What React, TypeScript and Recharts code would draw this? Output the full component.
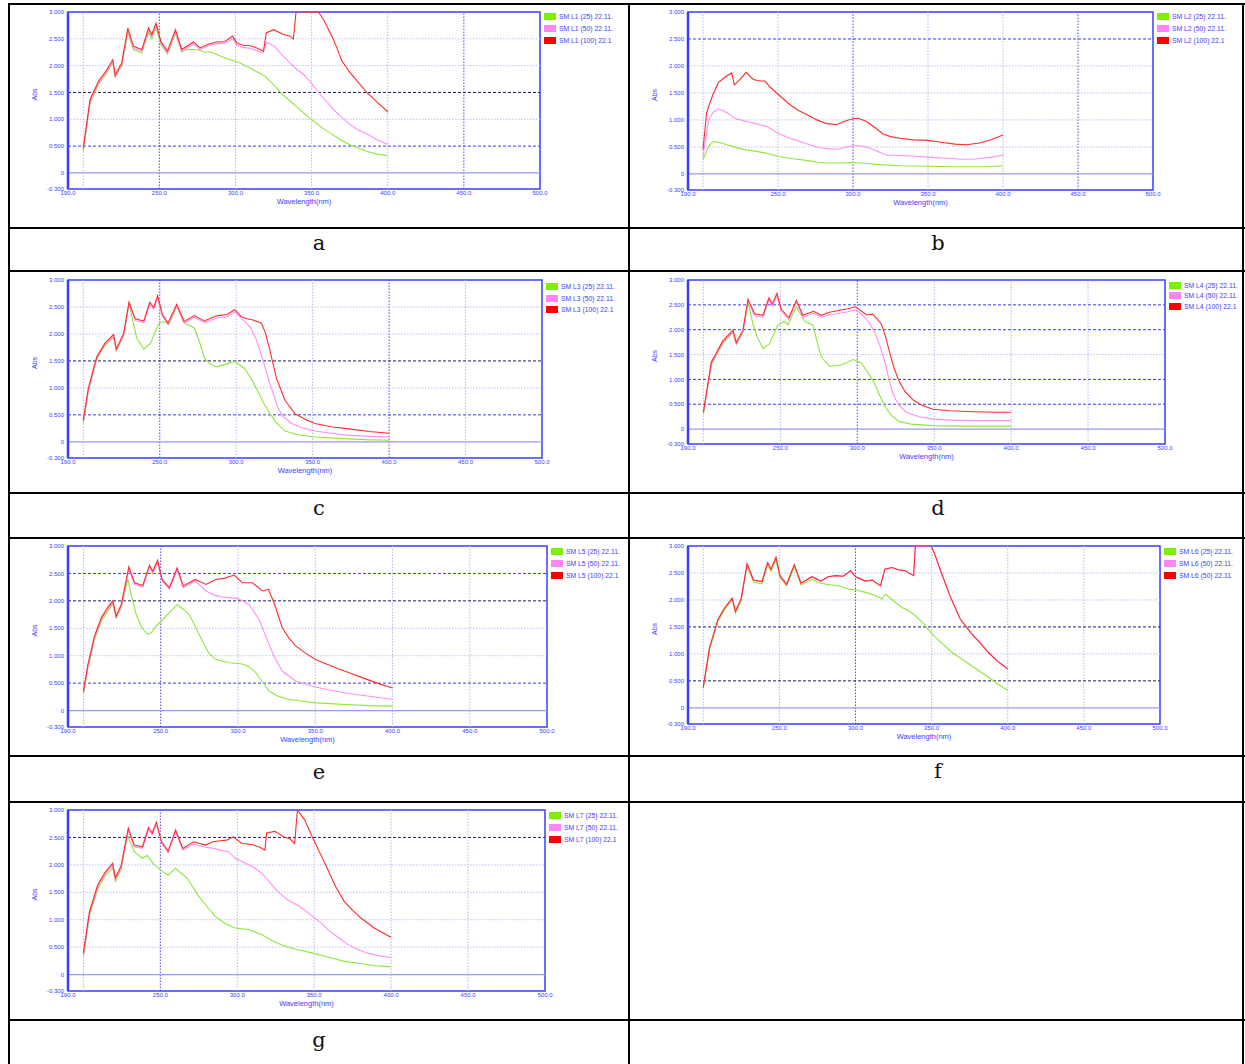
import { LineChart, Line, XAxis, YAxis, ReferenceLine, ReferenceArea } from "recharts";

// wavelength (nm) / absorbance pairs
const aRed = [[200,0.46],[204.5,1.37],[210,1.71],[215,1.9],[219.4,2.11],[221,1.83],[225.3,2.05],[229.3,2.7],[233,2.36],[238.5,2.3],[242.9,2.7],[245,2.58],[247.9,2.79],[251,2.45],[255.3,2.27],[260.6,2.67],[264.7,2.3],[272.4,2.44],[276.8,2.33],[282,2.4],[287.7,2.44],[293,2.45],[298.2,2.55],[300.9,2.42],[305,2.38],[309.7,2.37],[314,2.33],[318.4,2.27],[320.2,2.61],[325,2.67],[331.6,2.58],[336,2.55],[338,2.5],[339.8,3.0],[354.5,3.0],[358,2.85],[364.5,2.48],[370,2.08],[375,1.88],[380,1.71],[386.6,1.49],[393,1.32],[400,1.14]];
const aPink = [[200,0.43],[204.5,1.33],[210,1.68],[215,1.87],[219.4,2.08],[221,1.8],[225.3,2.02],[229.3,2.66],[233,2.33],[238.5,2.27],[242.9,2.66],[245,2.55],[247.9,2.75],[251,2.42],[255.3,2.24],[260.6,2.63],[264.7,2.27],[272.4,2.4],[276.8,2.3],[282,2.37],[287.7,2.41],[293,2.42],[298.2,2.5],[300.9,2.38],[305,2.34],[309.7,2.32],[314,2.28],[318,2.24],[320.5,2.44],[326,2.35],[331.6,2.17],[339,1.96],[345,1.83],[350,1.67],[357,1.42],[364.5,1.18],[370,1.03],[375.4,0.9],[380,0.81],[386.6,0.72],[393,0.62],[400,0.53]];
const aGreen = [[200,0.4],[204.5,1.3],[210,1.65],[215,1.84],[219.4,2.05],[221,1.78],[225.3,1.99],[229.3,2.62],[233,2.3],[238.5,2.24],[242.9,2.62],[245,2.5],[247.9,2.7],[251,2.39],[255.3,2.22],[260.6,2.6],[264.7,2.26],[268,2.3],[274.6,2.3],[280,2.25],[283.4,2.26],[290,2.18],[296.5,2.11],[303,2.05],[309.7,1.95],[315,1.87],[319.5,1.8],[323,1.7],[327.2,1.58],[331,1.46],[335.9,1.34],[343,1.16],[350.2,0.99],[357,0.84],[364.5,0.7],[370,0.6],[375.4,0.52],[380,0.47],[386.6,0.4],[393,0.35],[400,0.32]];

const bRed = [[200,0.45],[202.4,1.13],[205.8,1.41],[210.2,1.69],[215,1.8],[219.1,1.87],[220.9,1.65],[224.7,1.75],[228.7,1.88],[233.6,1.75],[238,1.72],[241.3,1.72],[245,1.6],[250.2,1.47],[258,1.28],[264,1.17],[269,1.1],[276,1.0],[282.4,0.93],[289,0.91],[295.8,0.99],[300,1.02],[303.6,1.03],[309,0.97],[315,0.85],[320,0.74],[325,0.69],[331,0.66],[340,0.63],[350,0.62],[360,0.58],[368,0.55],[375.6,0.54],[384.4,0.57],[392,0.63],[400,0.72]];
const bPink = [[200,0.32],[203.7,1.0],[207,1.15],[210.2,1.2],[213,1.18],[216.9,1.12],[220.9,1.03],[225,1.0],[229,0.97],[235,0.93],[242.4,0.88],[250.2,0.75],[257,0.67],[264.7,0.6],[272,0.53],[279,0.48],[285,0.46],[291.3,0.46],[296,0.5],[300.2,0.52],[304,0.52],[309,0.5],[316,0.42],[322.4,0.35],[331.3,0.34],[340,0.33],[350,0.31],[362,0.29],[373.3,0.27],[380,0.27],[386.7,0.29],[393,0.31],[400,0.35]];
const bGreen = [[200,0.26],[203.7,0.51],[207,0.6],[211,0.58],[215.8,0.54],[222,0.49],[229,0.44],[235,0.42],[242.4,0.38],[250.2,0.32],[260,0.28],[269,0.25],[276,0.22],[282.4,0.2],[290,0.2],[300.2,0.21],[310,0.19],[318,0.17],[331,0.15],[350,0.14],[365,0.13],[377.8,0.13],[390,0.13],[400,0.15]];

const cRed = [[200,0.4],[203.3,0.99],[208.8,1.58],[214,1.82],[219.8,1.99],[221.6,1.72],[226.4,2.01],[229.9,2.59],[234,2.28],[239.6,2.24],[243.5,2.59],[246.1,2.49],[248.6,2.71],[251.7,2.36],[255.4,2.2],[261.1,2.55],[266,2.23],[272.6,2.34],[279.2,2.24],[284,2.3],[288,2.34],[294,2.36],[299,2.45],[303.4,2.32],[307,2.28],[311,2.26],[316.5,2.2],[319,2.03],[322,1.7],[326.4,1.17],[331.9,0.77],[338.5,0.52],[345,0.42],[351.6,0.34],[362,0.28],[373.5,0.24],[387,0.19],[400,0.16]];
const cPink = [[200,0.37],[203.3,0.96],[208.8,1.55],[214,1.8],[219.8,1.96],[221.6,1.7],[226.4,1.98],[229.9,2.56],[234,2.25],[239.6,2.21],[243.5,2.55],[246.1,2.46],[248.6,2.67],[251.7,2.33],[255.4,2.18],[261.1,2.52],[266,2.2],[272.6,2.31],[279.2,2.21],[284,2.26],[288,2.3],[294,2.32],[299,2.41],[303.4,2.29],[306,2.22],[309.8,2.1],[313,1.9],[316.5,1.61],[322,1.08],[327.5,0.62],[331,0.46],[336.3,0.34],[343,0.26],[351.6,0.2],[362,0.16],[373.5,0.12],[387,0.1],[400,0.09]];
const cGreen = [[200,0.34],[203.3,0.94],[208.8,1.52],[214,1.78],[219.8,1.94],[221.6,1.68],[226.4,1.96],[229.9,2.56],[235,1.92],[239.6,1.72],[244,1.83],[249.5,2.2],[252.8,2.23],[256,2.17],[261.1,2.51],[266,2.2],[272.6,2.11],[276,1.85],[279.2,1.55],[283,1.44],[286.9,1.39],[293.5,1.44],[299,1.49],[305.5,1.36],[310,1.16],[314.3,0.93],[318,0.72],[322,0.53],[326,0.36],[331.9,0.2],[340,0.13],[351.6,0.09],[370,0.06],[385,0.04],[400,0.03]];

const dRed = [[200,0.34],[205.2,1.35],[212.7,1.78],[219.2,1.99],[221.4,1.74],[225.7,1.99],[229,2.61],[233.3,2.32],[238.7,2.29],[242.6,2.64],[244.8,2.52],[247.8,2.73],[250.6,2.41],[255.6,2.24],[260.4,2.59],[264.7,2.29],[271.6,2.37],[276.6,2.29],[282,2.35],[288.5,2.39],[294,2.42],[298.9,2.46],[305.8,2.3],[310.2,2.31],[315.6,2.12],[318,1.9],[321,1.55],[324,1.22],[327.5,0.94],[331,0.76],[336.2,0.59],[342,0.48],[349.2,0.4],[360,0.37],[375.2,0.35],[390,0.34],[400,0.34]];
const dPink = [[200,0.32],[205.2,1.32],[212.7,1.75],[219.2,1.96],[221.4,1.71],[225.7,1.96],[229,2.57],[233.3,2.28],[238.7,2.25],[242.6,2.6],[244.8,2.48],[247.8,2.68],[250.6,2.37],[255.6,2.21],[260.4,2.55],[264.7,2.25],[271.6,2.33],[276.6,2.25],[282,2.3],[288.5,2.33],[294,2.36],[298.9,2.4],[302,2.33],[305.8,2.22],[309,2.08],[312.3,1.89],[315,1.65],[317.7,1.38],[320.5,1.02],[323.1,0.71],[327,0.48],[331.8,0.34],[340,0.25],[349.2,0.2],[362,0.18],[375.2,0.17],[400,0.17]];
const dGreen = [[200,0.3],[205.2,1.3],[212.7,1.72],[219.2,1.94],[221.4,1.7],[225.7,1.94],[229,2.55],[232.2,2.12],[235,1.85],[238.7,1.62],[243,1.72],[248.4,2.09],[252.7,2.17],[254.9,2.1],[260.4,2.46],[265.8,2.17],[271.2,2.09],[274,1.75],[276.6,1.45],[282,1.26],[289.6,1.29],[297.2,1.4],[302.6,1.33],[306,1.18],[310.2,0.98],[314,0.72],[317.7,0.47],[322,0.28],[327.5,0.15],[335,0.1],[349.2,0.07],[370,0.06],[400,0.06]];

const eRed = [[200,0.35],[202.9,0.84],[207.2,1.36],[211.5,1.69],[215,1.85],[219,2.0],[221.2,1.72],[224.4,1.93],[229.4,2.62],[233,2.33],[238.4,2.28],[242.7,2.65],[244.8,2.54],[248,2.74],[250.9,2.39],[255.6,2.24],[260.6,2.6],[264.6,2.27],[272.4,2.39],[279.3,2.3],[285.7,2.39],[291,2.41],[297.5,2.47],[302.9,2.33],[309.4,2.33],[315.8,2.18],[319.7,2.21],[323.4,1.96],[328.7,1.51],[333,1.32],[337.3,1.18],[343,1.06],[350.2,0.93],[363.2,0.78],[372,0.69],[380.4,0.6],[390,0.5],[400,0.41]];
const ePink = [[200,0.33],[202.9,0.8],[207.2,1.33],[211.5,1.66],[215,1.82],[219,1.97],[221.2,1.7],[224.4,1.9],[229.4,2.58],[233,2.3],[238.4,2.25],[242.7,2.61],[244.8,2.5],[248,2.7],[250.9,2.36],[255.6,2.21],[260.6,2.56],[264.6,2.24],[272.4,2.36],[279.3,2.18],[285,2.1],[290,2.07],[299.7,2.04],[303,2.0],[307.3,1.93],[313.7,1.66],[320.2,1.2],[324,0.95],[328.7,0.72],[337.3,0.54],[350.2,0.43],[360,0.37],[369.6,0.32],[385,0.26],[400,0.2]];
const eGreen = [[200,0.3],[202.9,0.78],[207.2,1.3],[211.5,1.62],[215,1.78],[219,1.95],[221.2,1.68],[224.4,1.87],[228.7,2.39],[231,2.1],[234.1,1.75],[238,1.5],[241.6,1.39],[244,1.42],[247,1.54],[251.3,1.66],[256,1.8],[260.6,1.93],[264,1.86],[268.5,1.75],[272,1.55],[277.1,1.26],[281,1.05],[285.7,0.93],[294.3,0.87],[302.9,0.85],[307,0.8],[311.5,0.69],[316,0.52],[320.2,0.35],[326,0.26],[333,0.2],[350.2,0.14],[370,0.11],[385,0.09],[400,0.08]];

const fRed = [[200,0.38],[204.2,1.12],[209.7,1.64],[214,1.85],[219,2.03],[221.2,1.79],[224.9,2.02],[228.8,2.67],[233,2.37],[238.6,2.34],[242.3,2.69],[244.5,2.57],[247.8,2.79],[250.4,2.45],[254.8,2.29],[259.8,2.65],[264.2,2.31],[271.4,2.43],[277.2,2.35],[282,2.43],[287,2.45],[292,2.44],[296.8,2.54],[300.1,2.43],[306.6,2.35],[311,2.37],[316.4,2.26],[319.3,2.57],[324,2.6],[328,2.56],[332.8,2.54],[338.2,2.45],[339.3,3.0],[349.8,3.0],[352,2.85],[356.7,2.48],[362,2.08],[368.7,1.65],[376.3,1.37],[382,1.2],[387.2,1.03],[393,0.87],[400,0.72]];
// the second (50) trace lies exactly under the red one in f
const fPink = fRed;
const fGreen = [[200,0.36],[204.2,1.08],[209.7,1.6],[214,1.82],[219,2.0],[221.2,1.75],[224.9,1.98],[228.8,2.63],[233,2.33],[238.6,2.3],[242.3,2.64],[244.5,2.53],[247.8,2.74],[250.4,2.41],[254.8,2.26],[259.8,2.61],[264.2,2.28],[271.8,2.38],[276,2.32],[280.5,2.29],[289.2,2.26],[295.8,2.2],[300,2.19],[306.6,2.14],[312,2.09],[317.5,2.02],[319.7,2.11],[325,1.98],[330.6,1.86],[335,1.8],[339.3,1.71],[345,1.55],[350.2,1.37],[357,1.19],[363.2,1.03],[370,0.9],[376.3,0.78],[382,0.67],[387.2,0.57],[393,0.45],[400,0.32]];

const gRed = [[200,0.39],[204,1.15],[209.4,1.64],[214,1.86],[219,2.03],[220.8,1.77],[224.4,1.97],[229.2,2.67],[233,2.36],[238.4,2.33],[242.3,2.68],[244.8,2.58],[247.4,2.78],[250.8,2.42],[255.1,2.25],[259.9,2.64],[264.6,2.3],[271.7,2.42],[279.3,2.36],[284,2.42],[289,2.44],[293,2.45],[297.5,2.51],[302.9,2.39],[309.4,2.37],[314,2.33],[318,2.27],[319.1,2.58],[324.4,2.61],[330.9,2.5],[334,2.48],[337.3,2.39],[339.1,3.0],[343.8,2.82],[349.2,2.48],[354,2.2],[358.9,1.91],[364,1.6],[369.6,1.33],[375,1.17],[380.4,1.03],[389,0.85],[398.7,0.7],[400,0.68]];
const gPink = [[200,0.36],[204,1.12],[209.4,1.6],[214,1.83],[219,2.0],[220.8,1.74],[224.4,1.94],[229.2,2.63],[233,2.33],[238.4,2.3],[242.3,2.64],[244.8,2.55],[247.4,2.74],[250.8,2.39],[255.1,2.22],[259.9,2.6],[264.6,2.27],[271.7,2.38],[279.3,2.32],[285,2.3],[290,2.26],[294.3,2.24],[298.6,2.12],[303,2.06],[307.3,2.0],[311,1.95],[315.8,1.85],[320,1.72],[324.4,1.57],[328,1.47],[333,1.36],[340,1.25],[349.2,1.06],[354,0.95],[358.9,0.82],[365,0.69],[371.8,0.55],[378,0.46],[384.7,0.39],[392,0.34],[400,0.31]];
const gGreen = [[200,0.33],[204,1.08],[209.4,1.56],[214,1.79],[219,1.95],[220.8,1.7],[224.4,1.9],[228.7,2.54],[233,2.24],[238.4,2.12],[241.6,2.17],[245.9,2.01],[251.3,1.88],[255.1,1.81],[259.9,1.94],[263,1.86],[267.4,1.76],[271,1.6],[274.9,1.43],[280,1.25],[285.7,1.06],[292,0.93],[298.6,0.85],[307.3,0.82],[315.8,0.73],[322,0.63],[328.7,0.54],[338,0.46],[349.2,0.39],[360,0.31],[369.6,0.24],[380,0.2],[390,0.16],[400,0.14]];

const xTicks = [190, 250, 300, 350, 400, 450, 500];
const yTicks = [-0.3, 0, 0.5, 1, 1.5, 2, 2.5, 3];
const xGrid = [200, 250, 300, 350, 400, 450];
const yGrid = [0.5, 1, 1.5, 2, 2.5];

const BLUE = "#3d3dff";
const toPts = (arr: number[][]) => arr.map(([x, y]) => ({ x, y }));

type PanelProps = {
  box: number[];
  red: number[][];
  pink: number[][];
  green: number[][];
  names: string[];
  legendY: number[];
  darkY: number[];
  blueY: number[];
  strongX: number[];
};

function Panel({ box, red, pink, green, names, legendY, darkY, blueY, strongX }: PanelProps) {
  const [L, T, R, B] = box;
  const padL = 45, padT = 6, padR = 14, padB = 22;
  const w = R - L + padL + padR;
  const h = B - T + padT + padB;
  const swatches = ["#7cf000", "#ff86f5", "#ff0000"];
  const hStroke = (y: number) => (darkY.includes(y) ? "#1c1c70" : blueY.includes(y) ? "#3a3af0" : "#c0c0f2");
  return (
    <>
      <div style={{ position: "absolute", left: L - padL, top: T - padT }}>
        <LineChart width={w} height={h} margin={{ top: padT, right: padR, left: 0, bottom: 0 }}>
          <XAxis
            type="number"
            dataKey="x"
            domain={[190, 500]}
            ticks={xTicks}
            interval={0}
            allowDataOverflow
            height={padB}
            axisLine={false}
            tickLine={false}
            tickSize={0}
            tickMargin={2}
            tick={{ fontSize: 6, fill: BLUE, fontFamily: "Liberation Sans" }}
            tickFormatter={(v: number) => v.toFixed(1)}
            label={{ value: "Wavelength(nm)", position: "insideBottom", offset: 7, fontSize: 7.5, fill: BLUE, fontFamily: "Liberation Sans" }}
          />
          <YAxis
            type="number"
            domain={[-0.3, 3]}
            ticks={yTicks}
            interval={0}
            allowDataOverflow
            width={padL}
            axisLine={false}
            tickLine={false}
            tickSize={0}
            tickMargin={4}
            tick={{ fontSize: 6, fill: BLUE, fontFamily: "Liberation Sans" }}
            tickFormatter={(v: number) => (v === 0 ? "0" : v.toFixed(3))}
            label={{ value: "Abs", angle: -90, position: "insideLeft", offset: 12, fontSize: 7, fill: BLUE, fontFamily: "Liberation Sans" }}
          />
          {xGrid.map((x) => (
            <ReferenceLine key={"vx" + x} x={x} stroke={strongX.includes(x) ? "#4a4ae8" : "#b4b4f4"} strokeDasharray="1.5 1.5" strokeWidth={1} />
          ))}
          {yGrid.map((y) => (
            <ReferenceLine
              key={"hy" + y}
              y={y}
              stroke={hStroke(y)}
              strokeDasharray={darkY.includes(y) || blueY.includes(y) ? "3 2" : "1.5 1.5"}
              strokeWidth={1}
            />
          ))}
          <ReferenceLine y={0} stroke="#9a9aee" strokeWidth={1.2} />
          <Line data={toPts(green)} dataKey="y" stroke="#8fe63a" strokeWidth={1.1} dot={false} isAnimationActive={false} />
          <Line data={toPts(pink)} dataKey="y" stroke="#ff8ef2" strokeWidth={1.1} dot={false} isAnimationActive={false} />
          <Line data={toPts(red)} dataKey="y" stroke="#ff2b2b" strokeWidth={1.1} dot={false} isAnimationActive={false} />
          <ReferenceArea x1={190} x2={500} y1={-0.3} y2={3} fill="none" stroke={BLUE} strokeWidth={1.5} />
          <ReferenceLine x={190} stroke={BLUE} strokeWidth={2.5} />
        </LineChart>
      </div>
      {names.map((n, i) => (
        <div
          key={n + i}
          style={{
            position: "absolute",
            left: R + 4,
            top: legendY[i] - 4,
            height: 8,
            whiteSpace: "nowrap",
            display: "flex",
            alignItems: "center",
            fontFamily: "Liberation Sans",
            fontSize: 6.8,
            color: BLUE,
          }}
        >
          <span style={{ display: "inline-block", width: 12, height: 7, background: swatches[i], marginRight: 3, flex: "none" }} />
          {n}
        </div>
      ))}
    </>
  );
}

const hLines = [4, 228, 271, 493, 538, 756, 802, 1020];
const vLines = [9, 629, 1243];

const labelCell = (t: string, x: number, y: number) => (
  <div key={t} style={{ position: "absolute", left: x - 20, top: y - 14, width: 40, textAlign: "center", fontFamily: "DejaVu Serif", fontSize: 21, color: "#111" }}>
    {t}
  </div>
);

// legend strings as printed by the instrument (the last one is cut short there)
const names = (n: number, third = "(100) 22.1") => [
  `SM L${n} (25) 22.11.`,
  `SM L${n} (50) 22.11.`,
  `SM L${n} ${third}`,
];

export default function App() {
  return (
    <div style={{ position: "absolute", left: 0, top: 0, width: 1245, height: 1064, background: "#fff", overflow: "hidden" }}>
      {hLines.map((y) => (
        <div key={"h" + y} style={{ position: "absolute", left: 9, top: y - 1, width: 1236, height: 2, background: "#000" }} />
      ))}
      {vLines.map((x) => (
        <div key={"v" + x} style={{ position: "absolute", left: x - 1, top: 3, width: 2, height: 1061, background: "#000" }} />
      ))}

      <Panel box={[68, 12, 540, 189]} red={aRed} pink={aPink} green={aGreen} names={names(1)} legendY={[16, 28, 40]} darkY={[1.5]} blueY={[0.5]} strongX={[250, 450]} />
      <Panel box={[688, 12, 1153, 190]} red={bRed} pink={bPink} green={bGreen} names={names(2)} legendY={[16, 28, 40]} darkY={[]} blueY={[2.5]} strongX={[300, 450]} />
      <Panel box={[68, 280, 542, 458]} red={cRed} pink={cPink} green={cGreen} names={names(3)} legendY={[286, 298, 309]} darkY={[1.5]} blueY={[0.5]} strongX={[250, 400]} />
      <Panel box={[688, 280, 1165, 444]} red={dRed} pink={dPink} green={dGreen} names={names(4)} legendY={[285, 295, 306]} darkY={[]} blueY={[0.5, 1, 2, 2.5]} strongX={[300]} />
      <Panel box={[68, 546, 547, 727]} red={eRed} pink={ePink} green={eGreen} names={names(5)} legendY={[551, 563, 575]} darkY={[2]} blueY={[2.5, 0.5]} strongX={[250]} />
      <Panel box={[688, 546, 1160, 724]} red={fRed} pink={fPink} green={fGreen} names={names(6, "(50) 22.11")} legendY={[551, 563, 575]} darkY={[1.5, 0.5]} blueY={[]} strongX={[300]} />
      <Panel box={[68, 810, 545, 991]} red={gRed} pink={gPink} green={gGreen} names={names(7)} legendY={[815, 827, 839]} darkY={[2.5]} blueY={[]} strongX={[250]} />

      {labelCell("a", 319, 245)}
      {labelCell("b", 938, 245)}
      {labelCell("c", 319, 510)}
      {labelCell("d", 938, 510)}
      {labelCell("e", 319, 774)}
      {labelCell("f", 938, 773)}
      {labelCell("g", 319, 1042)}
    </div>
  );
}
